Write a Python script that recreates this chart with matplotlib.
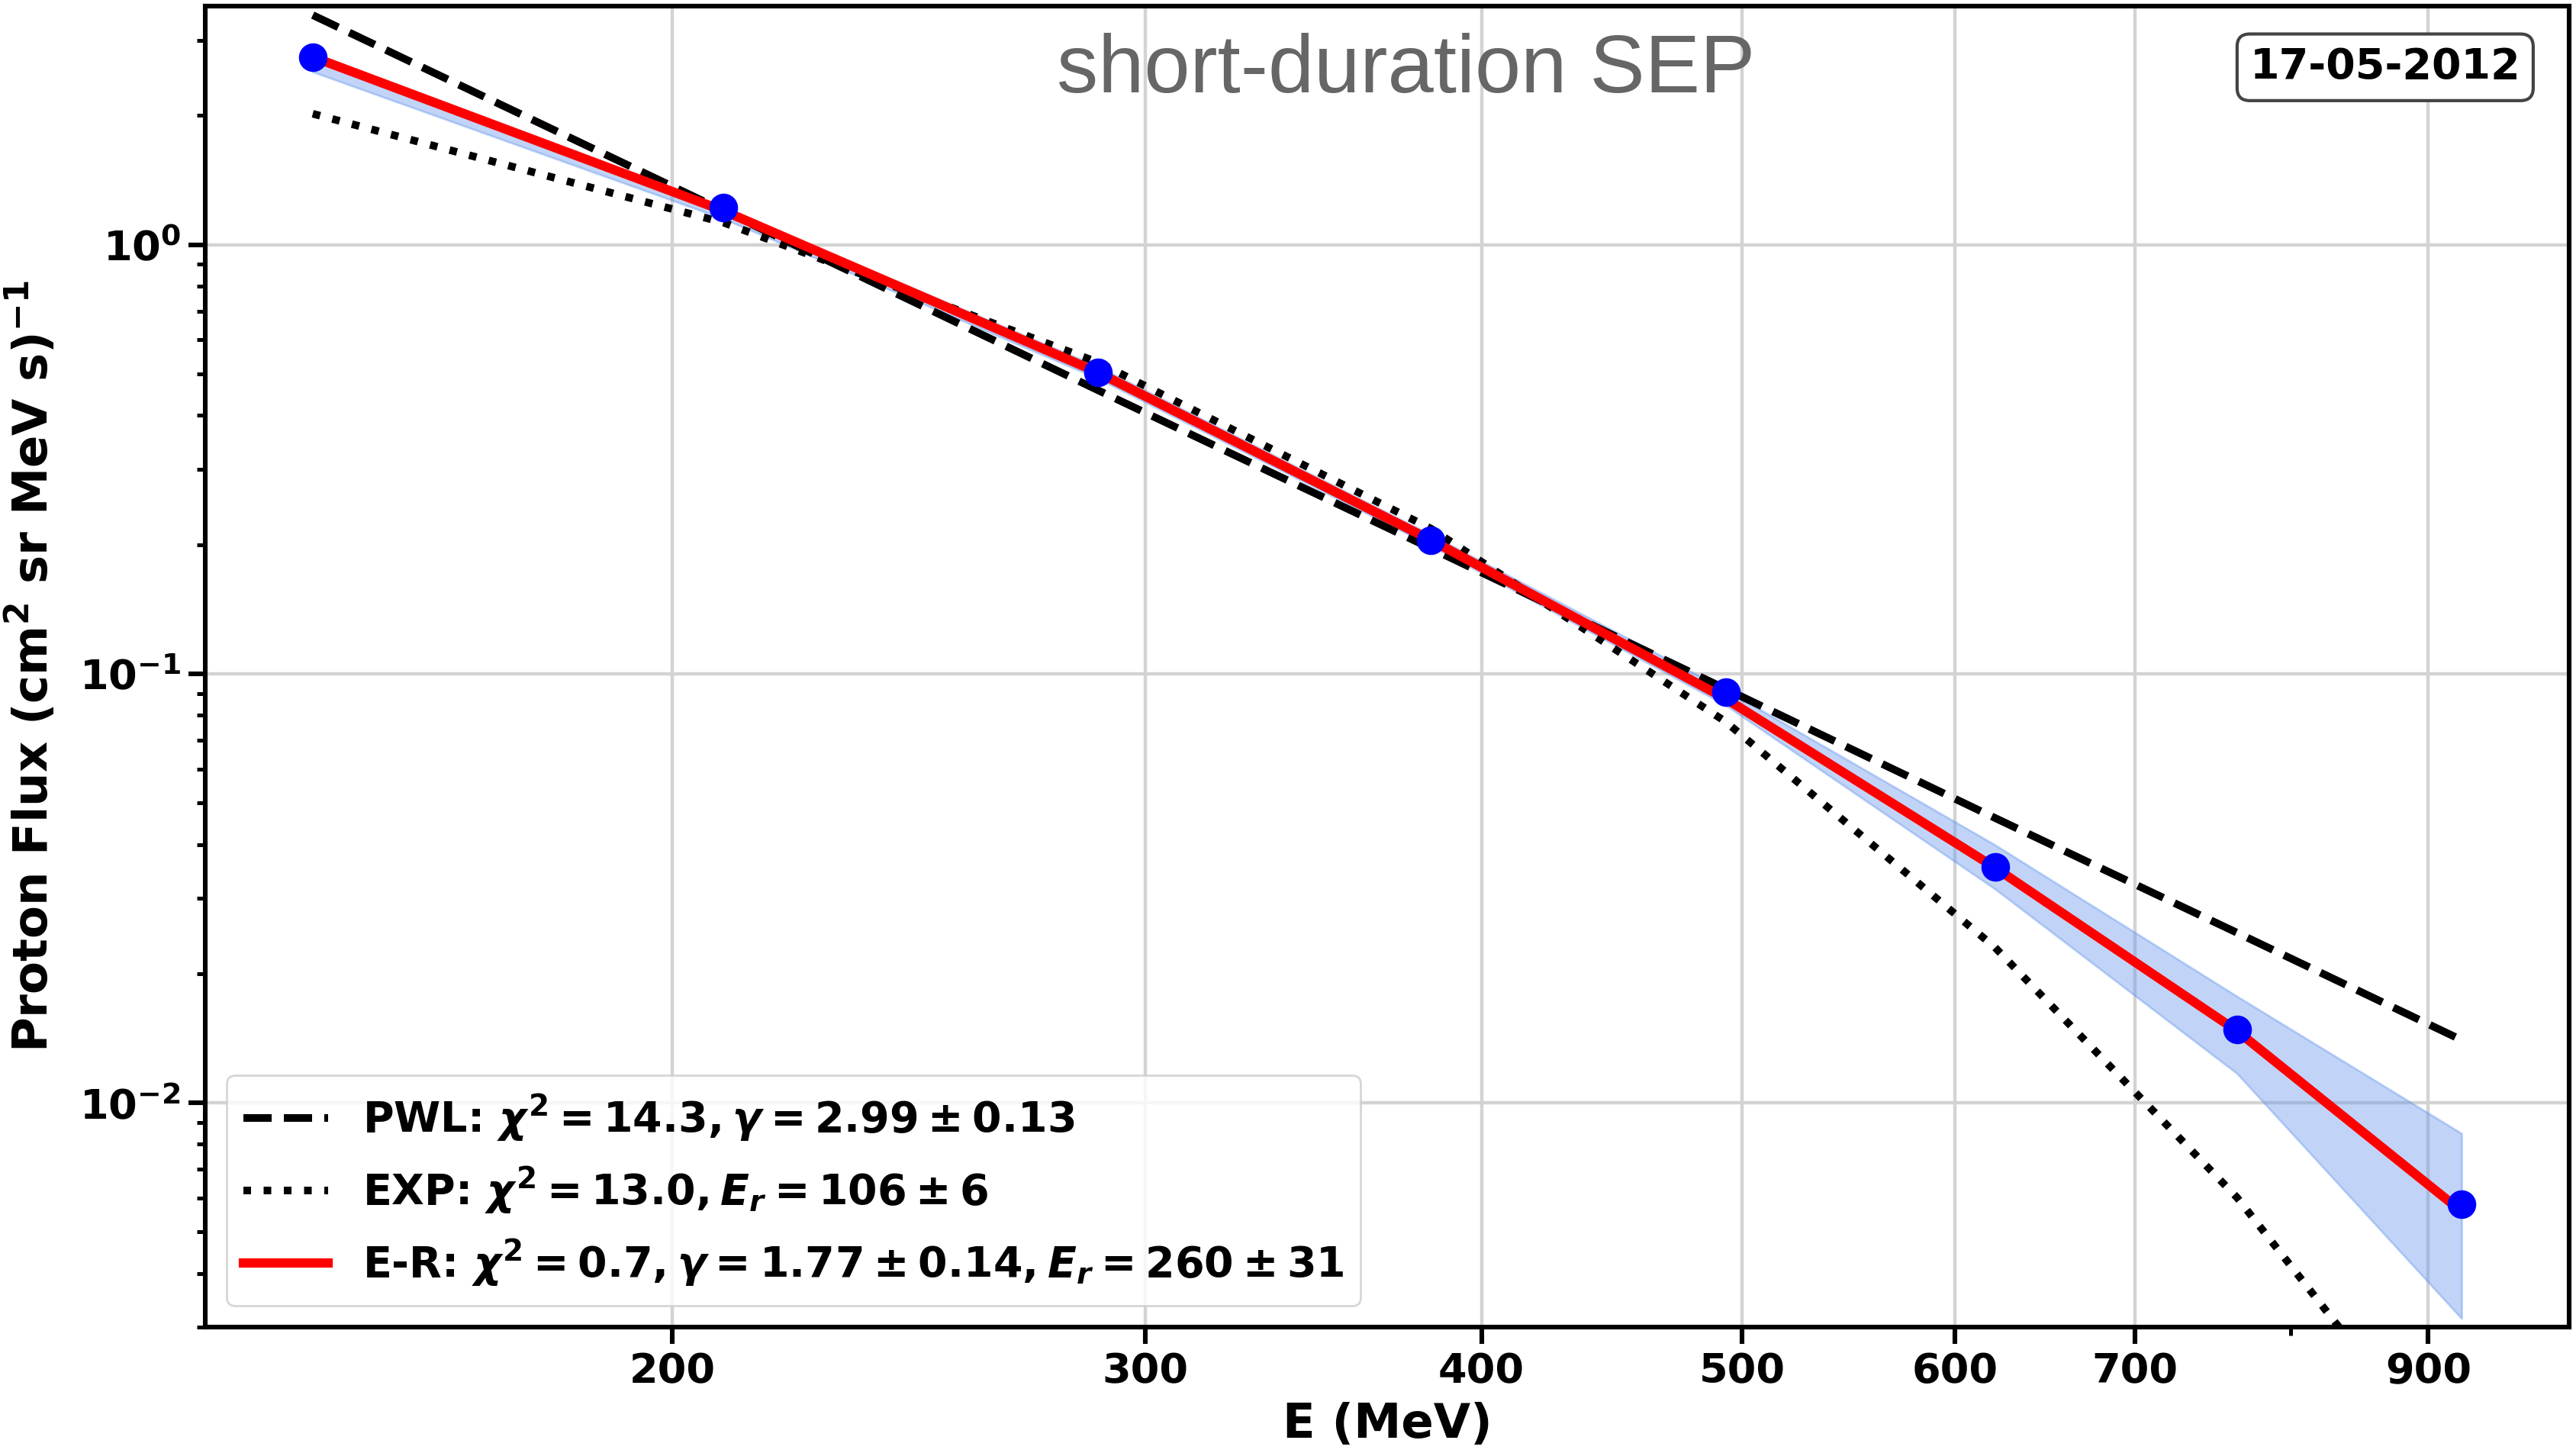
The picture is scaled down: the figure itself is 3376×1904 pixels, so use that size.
import matplotlib
matplotlib.use("Agg")
import matplotlib.pyplot as plt
from matplotlib.ticker import NullFormatter

# everything bold, including the math parts of the labels
plt.rcParams["font.family"] = "DejaVu Sans"
plt.rcParams["font.weight"] = "bold"
plt.rcParams["axes.labelweight"] = "bold"
plt.rcParams["mathtext.fontset"] = "custom"
plt.rcParams["mathtext.rm"] = "DejaVu Sans:bold"
plt.rcParams["mathtext.it"] = "DejaVu Sans:italic:bold"
plt.rcParams["mathtext.bf"] = "DejaVu Sans:bold"
plt.rcParams["mathtext.sf"] = "DejaVu Sans:bold"

# energy bins (MeV) and measured proton flux
energy = [147, 209, 288, 383, 493, 621, 764, 926]
flux = [2.74, 1.22, 0.505, 0.205, 0.0907, 0.0355, 0.0148, 0.00581]

# the three fits, evaluated at the same energies
pwl_fit = [3.43, 1.20, 0.458, 0.196, 0.0922, 0.0461, 0.0249, 0.0140]
exp_fit = [2.02, 1.126, 0.532, 0.218, 0.0773, 0.0230, 0.00601, 0.00130]
er_fit = [2.74, 1.20, 0.504, 0.205, 0.0875, 0.0353, 0.0147, 0.00558]
er_low = [2.53, 1.15, 0.488, 0.199, 0.0845, 0.0315, 0.0117, 0.00314]
er_high = [2.80, 1.22, 0.520, 0.211, 0.0918, 0.0399, 0.0177, 0.00848]

pwl_label = r"PWL: $\chi^2 = 14.3, \gamma = 2.99 \pm 0.13$"
exp_label = r"EXP: $\chi^2 = 13.0, E_r = 106 \pm 6$"
er_label = r"E-R: $\chi^2 = 0.7, \gamma = 1.77 \pm 0.14, E_r = 260 \pm 31$"

xticks = [200, 300, 400, 500, 600, 700, 900]
event_type = "short-duration SEP"
event_date = "17-05-2012"

fig = plt.figure(figsize=(16.88, 9.52), dpi=200)
ax = fig.add_axes([0.0797, 0.0867, 0.9176, 0.9091])

ax.fill_between(energy, er_low, er_high, color="cornflowerblue", alpha=0.4, zorder=2)
ax.plot(energy, pwl_fit, "k--", lw=3.6, label=pwl_label, zorder=3)
ax.plot(energy, exp_fit, "k:", lw=3.6, label=exp_label, zorder=3)
ax.plot(energy, er_fit, color="red", lw=4.4, label=er_label, zorder=4)
ax.plot(energy, flux, "o", color="blue", ms=12.5, zorder=5)

ax.set_xscale("log")
ax.set_yscale("log")
ax.set_ylim(3.0e-3, 3.6)

ax.set_xticks(xticks)
ax.set_xticklabels([str(t) for t in xticks])
ax.xaxis.set_minor_formatter(NullFormatter())

ax.tick_params(which="major", labelsize=19.5, length=8, width=2.2)
ax.tick_params(which="minor", length=4, width=1.8)
for s in ax.spines.values():
    s.set_linewidth(2.2)

ax.grid(True, which="major", color="lightgray", lw=1.6)
ax.set_axisbelow(True)

ax.set_xlabel("E (MeV)", fontsize=22.5, labelpad=5)
ax.set_ylabel(r"Proton Flux (cm$^2$ sr MeV s)$^{-1}$", fontsize=22.5, labelpad=10)

ax.text(0.508, 0.935, event_type, transform=ax.transAxes, ha="center",
        va="baseline", fontsize=39, fontweight="normal", color="#666666",
        family="Liberation Sans")
ax.text(0.9222, 0.945, event_date, transform=ax.transAxes, ha="center",
        va="baseline", fontsize=20,
        bbox=dict(boxstyle="round,pad=0.3", facecolor="white", edgecolor="#444444", lw=1.5))

ax.legend(loc="lower left", fontsize=20)

fig.savefig("out.png", dpi=200)
